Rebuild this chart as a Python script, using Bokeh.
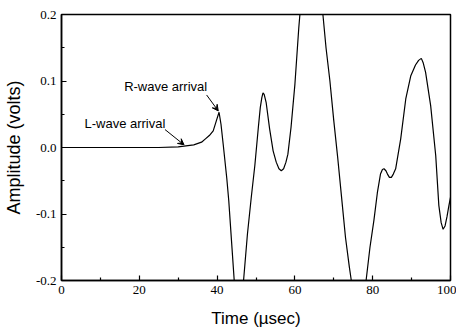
from bokeh.plotting import figure
from bokeh.models import Label, Arrow, VeeHead, FixedTicker, PrintfTickFormatter, Range1d
from bokeh.embed import file_html
from bokeh.resources import INLINE

time_us = [0, 5, 10, 15, 20, 25, 30, 31.5, 34, 36, 37, 38, 39, 39.8, 40.5,
           41, 41.6, 42.5, 43, 43.7, 44.4, 45.5, 46.8, 47.8, 48.8, 49.7, 50.6, 51.1, 51.5, 51.8, 52.1, 52.6,
           53.5, 54.4, 55.2, 55.9, 56.5, 57.1, 57.7, 58.2, 59, 60, 61, 62, 63, 64, 65, 66,
           67.2, 68, 69, 70, 71, 72, 73, 74, 74.5, 75.5, 76.4, 77.4, 78.3, 79.3,
           80.3, 81.2, 82, 82.5, 82.9, 83.4, 83.8, 84.3, 84.8, 85.3, 85.9, 87.2, 88.5, 89.8, 91, 91.8, 92.5, 93.0,
           93.6, 94.9, 96.2, 97, 97.6, 98.1, 98.6, 99.1, 99.6, 100]
amplitude = [0.0, 0.0, 0.0, 0.0, 0.0, 0.0, 0.001, 0.002, 0.004, 0.008, 0.013, 0.018, 0.025, 0.04, 0.053,
             0.035, 0.003, -0.047, -0.08, -0.14, -0.2, -0.23, -0.2, -0.13, -0.074, -0.027, 0.03, 0.06, 0.075, 0.082, 0.08, 0.068,
             0.028, -0.005, -0.022, -0.032, -0.035, -0.032, -0.022, -0.01, 0.03, 0.095, 0.18, 0.25, 0.28, 0.29, 0.28, 0.25,
             0.2, 0.15, 0.1, 0.04, -0.015, -0.075, -0.135, -0.18, -0.2, -0.225, -0.235, -0.225, -0.2, -0.15,
             -0.11, -0.068, -0.04, -0.033, -0.032, -0.035, -0.04, -0.045, -0.045, -0.04, -0.032, 0.013, 0.073, 0.108, 0.124, 0.131, 0.134, 0.127,
             0.113, 0.063, -0.012, -0.087, -0.113, -0.123, -0.118, -0.104, -0.087, -0.075]

x_ticks = [0, 20, 40, 60, 80, 100]
x_minor = [10, 30, 50, 70, 90]
y_ticks = [-0.2, -0.1, 0.0, 0.1, 0.2]
y_minor = [-0.15, -0.05, 0.05, 0.15]

p = figure(width=456, height=330, output_backend="svg", toolbar_location=None,
           x_range=Range1d(0, 100), y_range=Range1d(-0.2, 0.2),
           min_border_left=58, min_border_right=6, min_border_top=14, min_border_bottom=48)
p.grid.visible = False
p.outline_line_color = "black"
p.outline_line_width = 1.5
p.background_fill_color = "white"
p.border_fill_color = "white"

p.line(time_us, amplitude, line_color="black", line_width=1.2)

p.xaxis.ticker = FixedTicker(ticks=x_ticks, minor_ticks=x_minor)
p.yaxis.ticker = FixedTicker(ticks=y_ticks, minor_ticks=y_minor)
p.yaxis.formatter = PrintfTickFormatter(format="%.1f")
for ax in (p.xaxis, p.yaxis):
    ax.major_tick_in = 5
    ax.major_tick_out = 0
    ax.minor_tick_in = 3
    ax.minor_tick_out = 0
    ax.major_tick_line_width = 1.2
    ax.minor_tick_line_width = 1.2
    ax.axis_line_color = "black"
    ax.axis_line_width = 1.5
    ax.major_label_text_font = "Liberation Serif"
    ax.major_label_text_font_style = "normal"
    ax.major_label_text_font_size = "13px"
    ax.major_label_text_color = "black"
    ax.axis_label_text_font = "Liberation Sans"
    ax.axis_label_text_font_style = "normal"
    ax.axis_label_text_color = "black"
p.xaxis.axis_label_text_font_size = "17px"
p.yaxis.axis_label_text_font_size = "18px"
p.xaxis.axis_label = "Time (\u00b5sec)"
p.yaxis.axis_label = "Amplitude (volts)"
p.yaxis.major_label_standoff = 5
p.xaxis.major_label_standoff = 5
p.xaxis.axis_label_standoff = 12
p.yaxis.axis_label_standoff = 9

p.add_layout(Label(x=16.1, y=0.08, text="R-wave arrival", text_font="Liberation Sans",
                   text_font_size="13px", text_color="black"))
p.add_layout(Label(x=5.9, y=0.025, text="L-wave arrival", text_font="Liberation Sans",
                   text_font_size="13px", text_color="black"))
p.add_layout(Arrow(x_start=37.3, y_start=0.079, x_end=40.3, y_end=0.055, line_width=1,
                   end=VeeHead(size=6, fill_color="black", line_color="black")))
p.add_layout(Arrow(x_start=26.6, y_start=0.027, x_end=31.5, y_end=0.004, line_width=1,
                   end=VeeHead(size=6, fill_color="black", line_color="black")))

open("out.html", "w").write(file_html(p, INLINE))
